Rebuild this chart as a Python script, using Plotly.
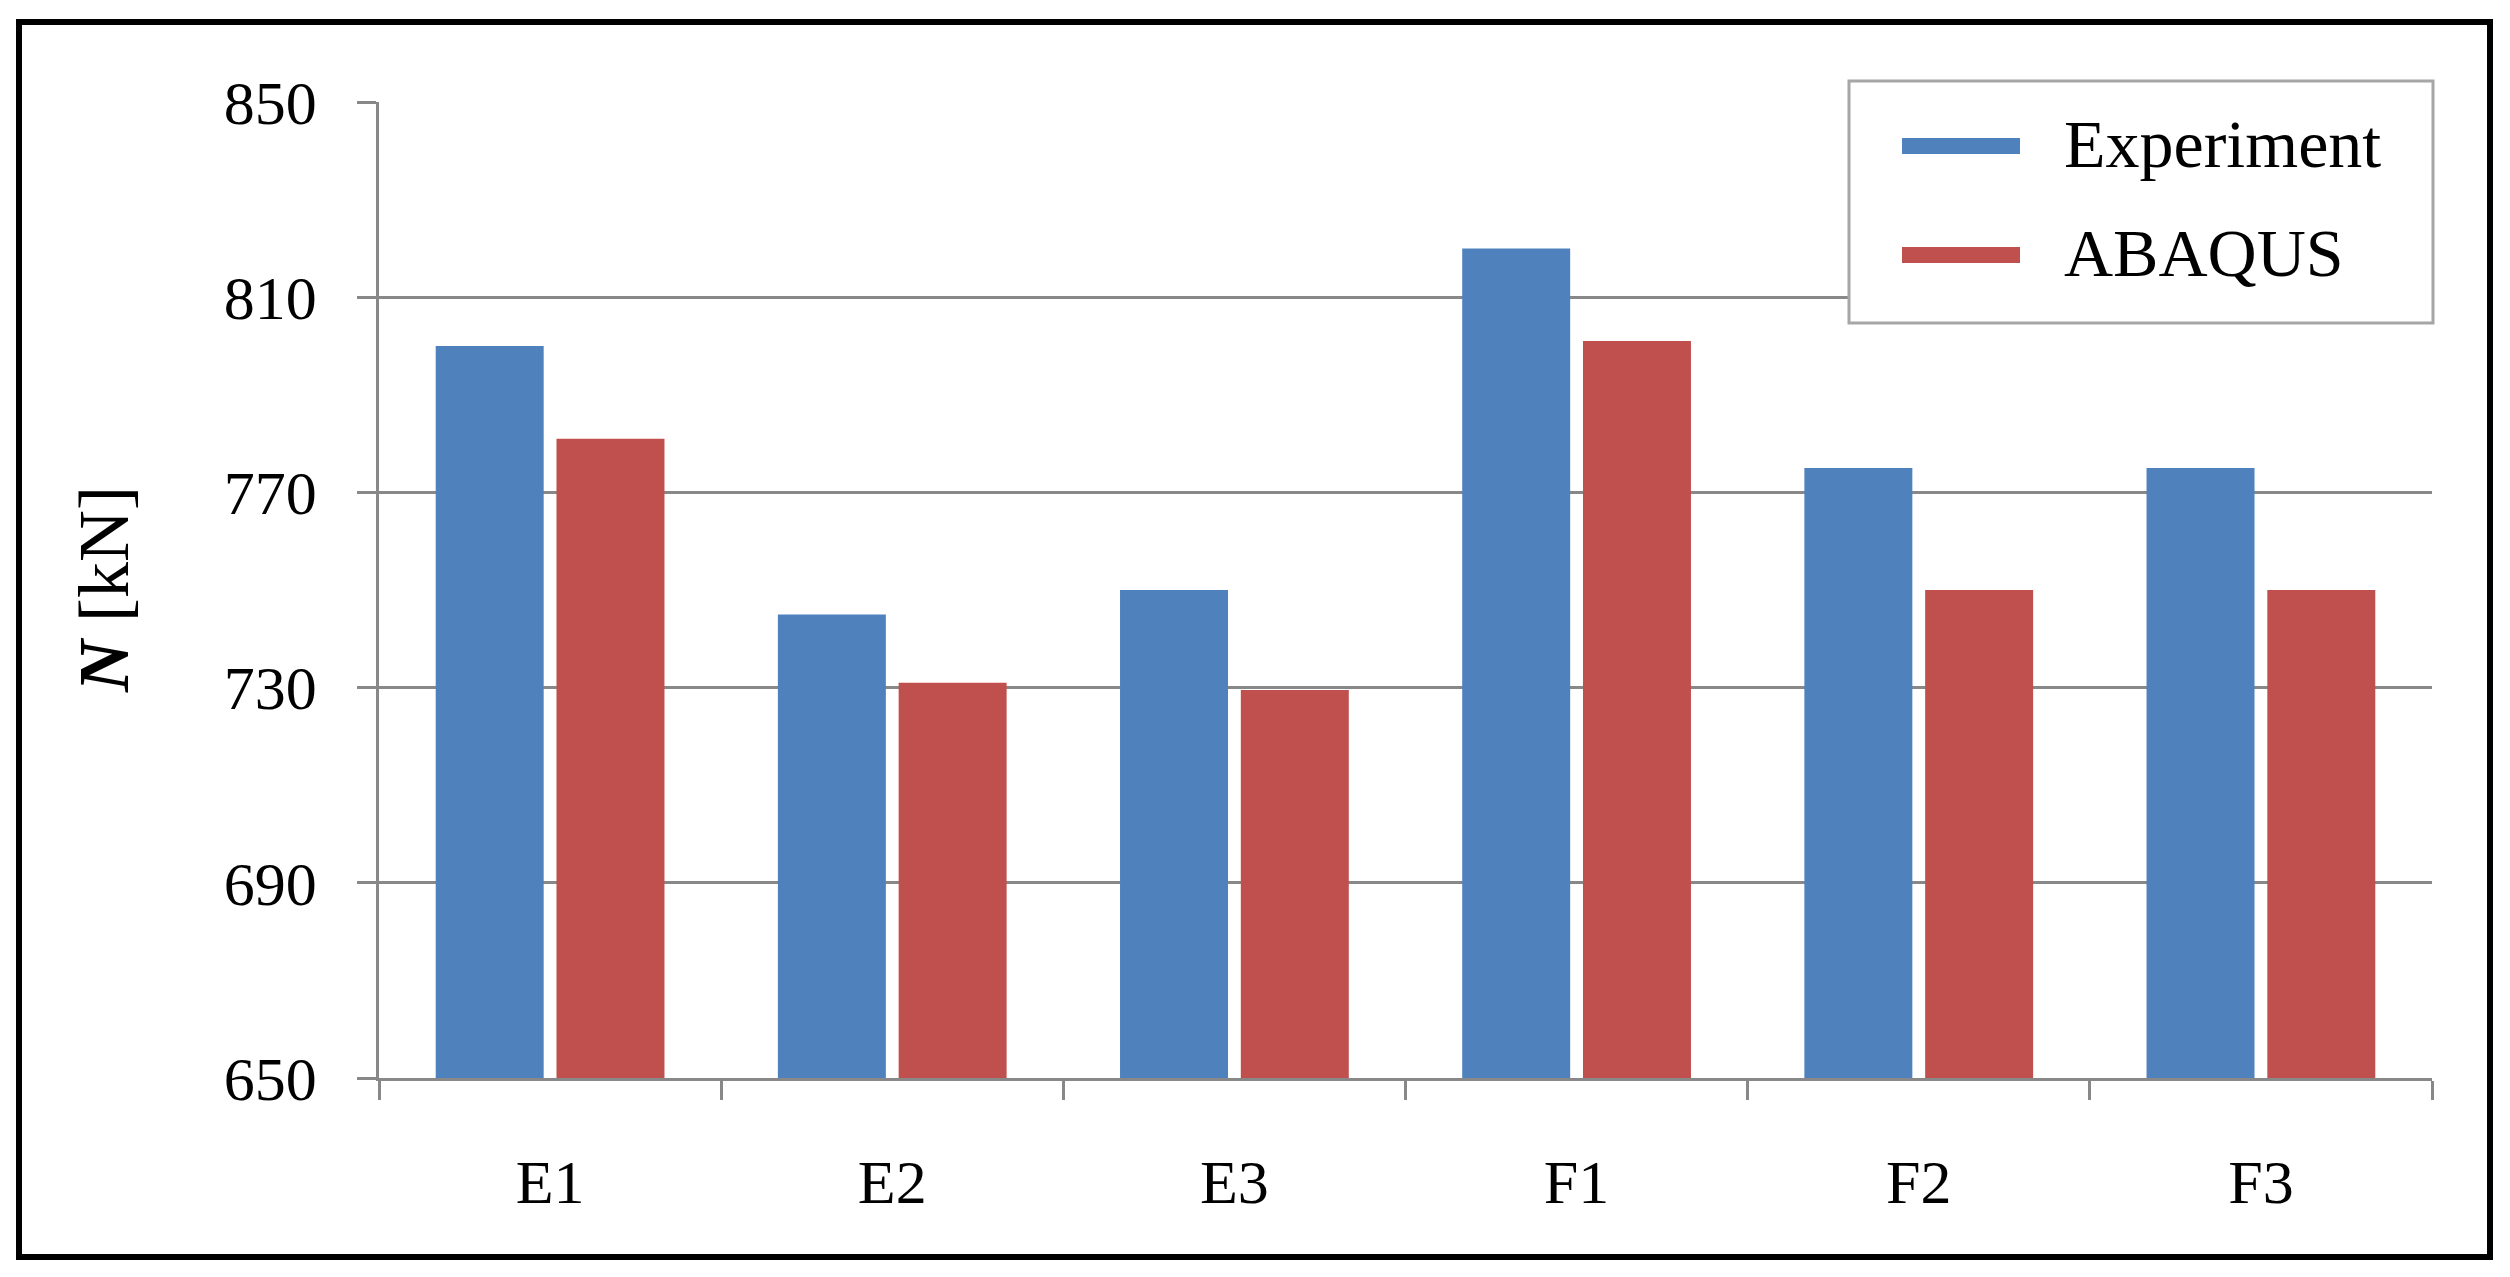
import plotly.graph_objects as go

categories = ["E1", "E2", "E3", "F1", "F2", "F3"]
experiment = [800, 745, 750, 820, 775, 775]
abaqus = [781, 731, 729.5, 801, 750, 750]
series_names = ["Experiment", "ABAQUS"]
series_colors = ["#4F81BD", "#C0504D"]
y_ticks = [650, 690, 730, 770, 810, 850]

OFF = 8  # default body margin of the page
W, H = 2510 - 2 * OFF, 1277 - 2 * OFF
L, R, T, B = 379 - OFF, 2432 - OFF, 102 - OFF, 1078 - OFF
FONT = "Liberation Serif"
GRID = "#888888"


def px(x):
    return (x - OFF - L) / (R - L)


def py(y):
    return (B - (y - OFF)) / (B - T)


fig = go.Figure()
for name, vals, col in zip(series_names, [experiment, abaqus], series_colors):
    fig.add_trace(go.Bar(x=categories, y=vals, name=name, marker=dict(color=col, line=dict(width=0)),
                         showlegend=False))

fig.update_layout(
    width=W, height=H,
    margin=dict(l=L, r=W - R, t=T, b=H - B, pad=0),
    plot_bgcolor="white", paper_bgcolor="white",
    barmode="group", bargap=0.294, bargroupgap=0.106,
    font=dict(family=FONT, size=62, color="black"),
)
fig.update_xaxes(
    showline=True, linecolor=GRID, linewidth=2.5,
    ticks="outside", tickson="boundaries", ticklen=19, tickwidth=2.5, tickcolor=GRID,
    tickfont=dict(family=FONT, size=62, color="black"),
    ticklabelstandoff=48, showgrid=False,
)
fig.update_yaxes(
    range=[650, 850], tickvals=y_ticks, ticktext=[str(v) for v in y_ticks],
    showline=True, linecolor=GRID, linewidth=2.5,
    ticks="outside", ticklen=19, tickwidth=2.5, tickcolor=GRID,
    showgrid=True, gridcolor=GRID, gridwidth=2.5, zeroline=False,
    tickfont=dict(family=FONT, size=62, color="black"),
    ticklabelstandoff=28,
)

shapes = []
# outer frame
shapes.append(dict(type="rect", xref="paper", yref="paper",
                   x0=px(19), x1=px(2490), y0=py(22), y1=py(1257),
                   line=dict(color="black", width=6), fillcolor="rgba(0,0,0,0)", layer="above"))
# legend box
shapes.append(dict(type="rect", xref="paper", yref="paper",
                   x0=px(1849), x1=px(2433), y0=py(81), y1=py(323),
                   line=dict(color="#A6A6A6", width=3), fillcolor="white", layer="above"))
annotations = []
legend_rows = [144, 253]
for name, col, yy in zip(series_names, series_colors, legend_rows):
    shapes.append(dict(type="line", xref="paper", yref="paper",
                       x0=px(1902), x1=px(2020), y0=py(yy + 2), y1=py(yy + 2),
                       line=dict(color=col, width=16), layer="above"))
    annotations.append(dict(xref="paper", yref="paper", x=px(2062), y=py(yy),
                            xanchor="left", yanchor="middle", showarrow=False,
                            text=name, font=dict(family=FONT, size=68, color="black")))

annotations.append(dict(xref="paper", yref="paper", x=px(104), y=0.5, textangle=-90,
                        xanchor="center", yanchor="middle", showarrow=False,
                        text="<b><i>N</i></b> [kN]", font=dict(family=FONT, size=72, color="black")))

fig.update_layout(shapes=shapes, annotations=annotations)
fig.write_html("out.html")
